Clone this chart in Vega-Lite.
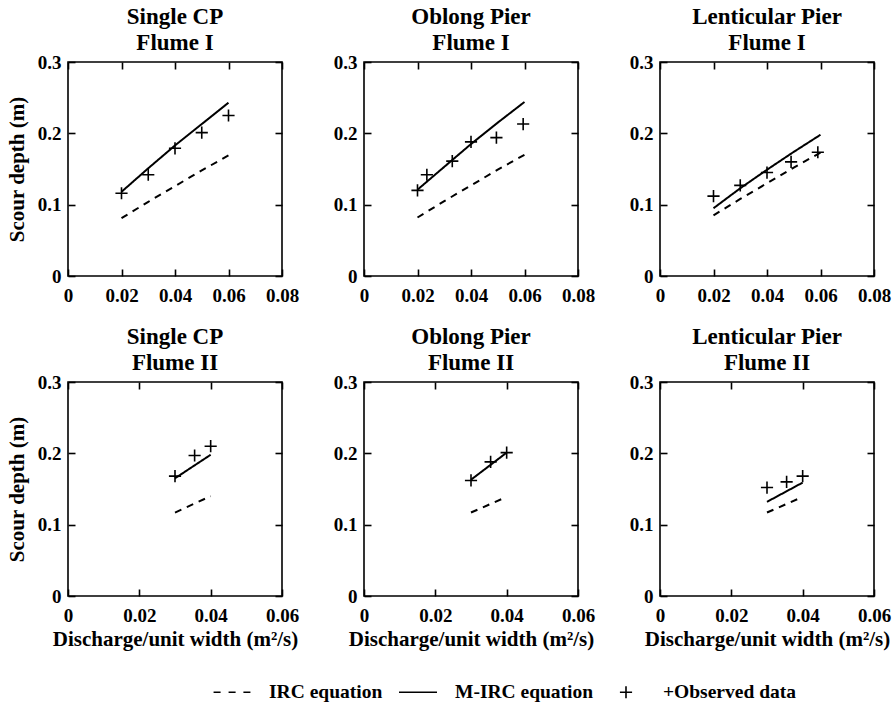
{
  "$schema": "https://vega.github.io/schema/vega-lite/v6.json",
  "background": "white",
  "padding": {"left": 5, "top": 5, "right": 5, "bottom": 5},
  "datasets": {
    "d": [
      {"panel": "A", "series": "IRC equation", "x": 0.02, "y": 0.081},
      {"panel": "A", "series": "IRC equation", "x": 0.03, "y": 0.104},
      {"panel": "A", "series": "IRC equation", "x": 0.04, "y": 0.126},
      {"panel": "A", "series": "IRC equation", "x": 0.05, "y": 0.148},
      {"panel": "A", "series": "IRC equation", "x": 0.06, "y": 0.169},
      {"panel": "A", "series": "M-IRC equation", "x": 0.02, "y": 0.118},
      {"panel": "A", "series": "M-IRC equation", "x": 0.03, "y": 0.151},
      {"panel": "A", "series": "M-IRC equation", "x": 0.04, "y": 0.183},
      {"panel": "A", "series": "M-IRC equation", "x": 0.05, "y": 0.213},
      {"panel": "A", "series": "M-IRC equation", "x": 0.06, "y": 0.243},
      {"panel": "A", "series": "Observed data", "x": 0.02, "y": 0.116},
      {"panel": "A", "series": "Observed data", "x": 0.03, "y": 0.142},
      {"panel": "A", "series": "Observed data", "x": 0.04, "y": 0.179},
      {"panel": "A", "series": "Observed data", "x": 0.05, "y": 0.201},
      {"panel": "A", "series": "Observed data", "x": 0.06, "y": 0.225},
      {"panel": "B", "series": "IRC equation", "x": 0.02, "y": 0.082},
      {"panel": "B", "series": "IRC equation", "x": 0.03, "y": 0.105},
      {"panel": "B", "series": "IRC equation", "x": 0.04, "y": 0.127},
      {"panel": "B", "series": "IRC equation", "x": 0.05, "y": 0.149},
      {"panel": "B", "series": "IRC equation", "x": 0.06, "y": 0.17},
      {"panel": "B", "series": "M-IRC equation", "x": 0.02, "y": 0.121},
      {"panel": "B", "series": "M-IRC equation", "x": 0.03, "y": 0.153},
      {"panel": "B", "series": "M-IRC equation", "x": 0.04, "y": 0.185},
      {"panel": "B", "series": "M-IRC equation", "x": 0.05, "y": 0.215},
      {"panel": "B", "series": "M-IRC equation", "x": 0.06, "y": 0.244},
      {"panel": "B", "series": "Observed data", "x": 0.02, "y": 0.12},
      {"panel": "B", "series": "Observed data", "x": 0.0235, "y": 0.142},
      {"panel": "B", "series": "Observed data", "x": 0.033, "y": 0.161},
      {"panel": "B", "series": "Observed data", "x": 0.04, "y": 0.188},
      {"panel": "B", "series": "Observed data", "x": 0.0495, "y": 0.194},
      {"panel": "B", "series": "Observed data", "x": 0.0595, "y": 0.213},
      {"panel": "C", "series": "IRC equation", "x": 0.02, "y": 0.085},
      {"panel": "C", "series": "IRC equation", "x": 0.03, "y": 0.108},
      {"panel": "C", "series": "IRC equation", "x": 0.04, "y": 0.13},
      {"panel": "C", "series": "IRC equation", "x": 0.05, "y": 0.152},
      {"panel": "C", "series": "IRC equation", "x": 0.06, "y": 0.173},
      {"panel": "C", "series": "M-IRC equation", "x": 0.02, "y": 0.095},
      {"panel": "C", "series": "M-IRC equation", "x": 0.03, "y": 0.123},
      {"panel": "C", "series": "M-IRC equation", "x": 0.04, "y": 0.149},
      {"panel": "C", "series": "M-IRC equation", "x": 0.05, "y": 0.174},
      {"panel": "C", "series": "M-IRC equation", "x": 0.06, "y": 0.198},
      {"panel": "C", "series": "Observed data", "x": 0.02, "y": 0.112},
      {"panel": "C", "series": "Observed data", "x": 0.03, "y": 0.127},
      {"panel": "C", "series": "Observed data", "x": 0.04, "y": 0.145},
      {"panel": "C", "series": "Observed data", "x": 0.049, "y": 0.16},
      {"panel": "C", "series": "Observed data", "x": 0.059, "y": 0.1735},
      {"panel": "D", "series": "IRC equation", "x": 0.03, "y": 0.117},
      {"panel": "D", "series": "IRC equation", "x": 0.04, "y": 0.14},
      {"panel": "D", "series": "M-IRC equation", "x": 0.03, "y": 0.165},
      {"panel": "D", "series": "M-IRC equation", "x": 0.04, "y": 0.198},
      {"panel": "D", "series": "Observed data", "x": 0.03, "y": 0.168},
      {"panel": "D", "series": "Observed data", "x": 0.0355, "y": 0.197},
      {"panel": "D", "series": "Observed data", "x": 0.04, "y": 0.21},
      {"panel": "E", "series": "IRC equation", "x": 0.03, "y": 0.117},
      {"panel": "E", "series": "IRC equation", "x": 0.04, "y": 0.139},
      {"panel": "E", "series": "M-IRC equation", "x": 0.03, "y": 0.163},
      {"panel": "E", "series": "M-IRC equation", "x": 0.04, "y": 0.201},
      {"panel": "E", "series": "Observed data", "x": 0.03, "y": 0.162},
      {"panel": "E", "series": "Observed data", "x": 0.0355, "y": 0.188},
      {"panel": "E", "series": "Observed data", "x": 0.04, "y": 0.201},
      {"panel": "F", "series": "IRC equation", "x": 0.03, "y": 0.117},
      {"panel": "F", "series": "IRC equation", "x": 0.04, "y": 0.139},
      {"panel": "F", "series": "M-IRC equation", "x": 0.03, "y": 0.132},
      {"panel": "F", "series": "M-IRC equation", "x": 0.04, "y": 0.159},
      {"panel": "F", "series": "Observed data", "x": 0.03, "y": 0.152},
      {"panel": "F", "series": "Observed data", "x": 0.0355, "y": 0.16},
      {"panel": "F", "series": "Observed data", "x": 0.04, "y": 0.168}
    ]
  },
  "data": {"name": "d"},
  "columns": 3,
  "bounds": "flush",
  "spacing": {"row": 106, "column": 82},
  "concat": [
    {
      "title": {"text": ["Single CP", "Flume I"]},
      "width": 214, "height": 214,
      "transform": [{"filter": "datum.panel === 'A'"}],
      "layer": [
        {"mark": {"type": "line", "color": "black", "strokeWidth": 2},
         "transform": [{"filter": "datum.series !== 'Observed data'"}],
         "encoding": {
           "x": {"field": "x", "type": "quantitative", "scale": {"domain": [0, 0.08]}, "axis": {"orient": "bottom", "title": null, "values": [0, 0.02, 0.04, 0.06, 0.08]}},
           "y": {"field": "y", "type": "quantitative", "scale": {"domain": [0, 0.3]}, "axis": {"orient": "left", "title": "Scour depth (m)", "values": [0, 0.1, 0.2, 0.3]}},
           "strokeDash": {"field": "series", "type": "nominal", "scale": {"domain": ["IRC equation", "M-IRC equation"], "range": [[7, 6], [1, 0]]}, "legend": null}
         }},
        {"mark": {"type": "point", "filled": false, "stroke": "black", "strokeWidth": 1.6, "size": 1444, "opacity": 1},
         "transform": [{"filter": "datum.series === 'Observed data'"}],
         "encoding": {
           "x": {"field": "x", "type": "quantitative", "scale": {"domain": [0, 0.08]}, "axis": {"orient": "top", "title": null, "labels": false, "values": [0, 0.02, 0.04, 0.06, 0.08]}},
           "y": {"field": "y", "type": "quantitative", "scale": {"domain": [0, 0.3]}, "axis": {"orient": "right", "title": null, "labels": false, "values": [0, 0.1, 0.2, 0.3]}},
           "shape": {"field": "series", "type": "nominal", "scale": {"domain": ["IRC equation", "M-IRC equation", "Observed data"], "range": ["M-0.97,0H-0.6M-0.18,0H0.19M0.6,0H0.97", "M-1,0H1", "M-0.32,0H0.32M0,-0.32V0.32"]},
             "legend": {"orient": "none", "legendX": 144, "legendY": 610, "direction": "horizontal", "title": null, "labelFont": "Liberation Serif", "labelFontWeight": "bold", "labelFontSize": 19.5, "labelColor": "black", "labelExpr": "datum.label === 'Observed data' ? '+Observed data' : datum.label", "columnPadding": 12, "labelOffset": 17, "symbolStrokeColor": "black", "symbolFillColor": "transparent", "symbolStrokeWidth": 1.6, "symbolSize": 1444,
               "encode": {"labels": {"update": {"fontWeight": {"value": "bold"}, "font": {"value": "Liberation Serif"}, "fontSize": {"value": 19.5}}}}}}
         }}
      ],
      "resolve": {"axis": {"x": "independent", "y": "independent"}}
    },
    {
      "title": {"text": ["Oblong Pier", "Flume I"]},
      "width": 214, "height": 214,
      "transform": [{"filter": "datum.panel === 'B'"}],
      "layer": [
        {"mark": {"type": "line", "color": "black", "strokeWidth": 2},
         "transform": [{"filter": "datum.series !== 'Observed data'"}],
         "encoding": {
           "x": {"field": "x", "type": "quantitative", "scale": {"domain": [0, 0.08]}, "axis": {"orient": "bottom", "title": null, "values": [0, 0.02, 0.04, 0.06, 0.08]}},
           "y": {"field": "y", "type": "quantitative", "scale": {"domain": [0, 0.3]}, "axis": {"orient": "left", "title": null, "values": [0, 0.1, 0.2, 0.3]}},
           "strokeDash": {"field": "series", "type": "nominal", "scale": {"domain": ["IRC equation", "M-IRC equation"], "range": [[7, 6], [1, 0]]}, "legend": null}
         }},
        {"mark": {"type": "point", "filled": false, "stroke": "black", "strokeWidth": 1.6, "size": 1444, "opacity": 1},
         "transform": [{"filter": "datum.series === 'Observed data'"}],
         "encoding": {
           "x": {"field": "x", "type": "quantitative", "scale": {"domain": [0, 0.08]}, "axis": {"orient": "top", "title": null, "labels": false, "values": [0, 0.02, 0.04, 0.06, 0.08]}},
           "y": {"field": "y", "type": "quantitative", "scale": {"domain": [0, 0.3]}, "axis": {"orient": "right", "title": null, "labels": false, "values": [0, 0.1, 0.2, 0.3]}},
           "shape": {"field": "series", "type": "nominal", "scale": {"domain": ["IRC equation", "M-IRC equation", "Observed data"], "range": ["M-0.97,0H-0.6M-0.18,0H0.19M0.6,0H0.97", "M-1,0H1", "M-0.32,0H0.32M0,-0.32V0.32"]}}
         }}
      ],
      "resolve": {"axis": {"x": "independent", "y": "independent"}}
    },
    {
      "title": {"text": ["Lenticular Pier", "Flume I"]},
      "width": 214, "height": 214,
      "transform": [{"filter": "datum.panel === 'C'"}],
      "layer": [
        {"mark": {"type": "line", "color": "black", "strokeWidth": 2},
         "transform": [{"filter": "datum.series !== 'Observed data'"}],
         "encoding": {
           "x": {"field": "x", "type": "quantitative", "scale": {"domain": [0, 0.08]}, "axis": {"orient": "bottom", "title": null, "values": [0, 0.02, 0.04, 0.06, 0.08]}},
           "y": {"field": "y", "type": "quantitative", "scale": {"domain": [0, 0.3]}, "axis": {"orient": "left", "title": null, "values": [0, 0.1, 0.2, 0.3]}},
           "strokeDash": {"field": "series", "type": "nominal", "scale": {"domain": ["IRC equation", "M-IRC equation"], "range": [[7, 6], [1, 0]]}, "legend": null}
         }},
        {"mark": {"type": "point", "filled": false, "stroke": "black", "strokeWidth": 1.6, "size": 1444, "opacity": 1},
         "transform": [{"filter": "datum.series === 'Observed data'"}],
         "encoding": {
           "x": {"field": "x", "type": "quantitative", "scale": {"domain": [0, 0.08]}, "axis": {"orient": "top", "title": null, "labels": false, "values": [0, 0.02, 0.04, 0.06, 0.08]}},
           "y": {"field": "y", "type": "quantitative", "scale": {"domain": [0, 0.3]}, "axis": {"orient": "right", "title": null, "labels": false, "values": [0, 0.1, 0.2, 0.3]}},
           "shape": {"field": "series", "type": "nominal", "scale": {"domain": ["IRC equation", "M-IRC equation", "Observed data"], "range": ["M-0.97,0H-0.6M-0.18,0H0.19M0.6,0H0.97", "M-1,0H1", "M-0.32,0H0.32M0,-0.32V0.32"]}}
         }}
      ],
      "resolve": {"axis": {"x": "independent", "y": "independent"}}
    },
    {
      "title": {"text": ["Single CP", "Flume II"]},
      "width": 214, "height": 214,
      "transform": [{"filter": "datum.panel === 'D'"}],
      "layer": [
        {"mark": {"type": "line", "color": "black", "strokeWidth": 2},
         "transform": [{"filter": "datum.series !== 'Observed data'"}],
         "encoding": {
           "x": {"field": "x", "type": "quantitative", "scale": {"domain": [0, 0.06]}, "axis": {"orient": "bottom", "title": "Discharge/unit width (m²/s)", "values": [0, 0.02, 0.04, 0.06]}},
           "y": {"field": "y", "type": "quantitative", "scale": {"domain": [0, 0.3]}, "axis": {"orient": "left", "title": "Scour depth (m)", "values": [0, 0.1, 0.2, 0.3]}},
           "strokeDash": {"field": "series", "type": "nominal", "scale": {"domain": ["IRC equation", "M-IRC equation"], "range": [[7, 6], [1, 0]]}, "legend": null}
         }},
        {"mark": {"type": "point", "filled": false, "stroke": "black", "strokeWidth": 1.6, "size": 1444, "opacity": 1},
         "transform": [{"filter": "datum.series === 'Observed data'"}],
         "encoding": {
           "x": {"field": "x", "type": "quantitative", "scale": {"domain": [0, 0.06]}, "axis": {"orient": "top", "title": null, "labels": false, "values": [0, 0.02, 0.04, 0.06]}},
           "y": {"field": "y", "type": "quantitative", "scale": {"domain": [0, 0.3]}, "axis": {"orient": "right", "title": null, "labels": false, "values": [0, 0.1, 0.2, 0.3]}},
           "shape": {"field": "series", "type": "nominal", "scale": {"domain": ["IRC equation", "M-IRC equation", "Observed data"], "range": ["M-0.97,0H-0.6M-0.18,0H0.19M0.6,0H0.97", "M-1,0H1", "M-0.32,0H0.32M0,-0.32V0.32"]}}
         }}
      ],
      "resolve": {"axis": {"x": "independent", "y": "independent"}}
    },
    {
      "title": {"text": ["Oblong Pier", "Flume II"]},
      "width": 214, "height": 214,
      "transform": [{"filter": "datum.panel === 'E'"}],
      "layer": [
        {"mark": {"type": "line", "color": "black", "strokeWidth": 2},
         "transform": [{"filter": "datum.series !== 'Observed data'"}],
         "encoding": {
           "x": {"field": "x", "type": "quantitative", "scale": {"domain": [0, 0.06]}, "axis": {"orient": "bottom", "title": "Discharge/unit width (m²/s)", "values": [0, 0.02, 0.04, 0.06]}},
           "y": {"field": "y", "type": "quantitative", "scale": {"domain": [0, 0.3]}, "axis": {"orient": "left", "title": null, "values": [0, 0.1, 0.2, 0.3]}},
           "strokeDash": {"field": "series", "type": "nominal", "scale": {"domain": ["IRC equation", "M-IRC equation"], "range": [[7, 6], [1, 0]]}, "legend": null}
         }},
        {"mark": {"type": "point", "filled": false, "stroke": "black", "strokeWidth": 1.6, "size": 1444, "opacity": 1},
         "transform": [{"filter": "datum.series === 'Observed data'"}],
         "encoding": {
           "x": {"field": "x", "type": "quantitative", "scale": {"domain": [0, 0.06]}, "axis": {"orient": "top", "title": null, "labels": false, "values": [0, 0.02, 0.04, 0.06]}},
           "y": {"field": "y", "type": "quantitative", "scale": {"domain": [0, 0.3]}, "axis": {"orient": "right", "title": null, "labels": false, "values": [0, 0.1, 0.2, 0.3]}},
           "shape": {"field": "series", "type": "nominal", "scale": {"domain": ["IRC equation", "M-IRC equation", "Observed data"], "range": ["M-0.97,0H-0.6M-0.18,0H0.19M0.6,0H0.97", "M-1,0H1", "M-0.32,0H0.32M0,-0.32V0.32"]}}
         }}
      ],
      "resolve": {"axis": {"x": "independent", "y": "independent"}}
    },
    {
      "title": {"text": ["Lenticular Pier", "Flume II"]},
      "width": 214, "height": 214,
      "transform": [{"filter": "datum.panel === 'F'"}],
      "layer": [
        {"mark": {"type": "line", "color": "black", "strokeWidth": 2},
         "transform": [{"filter": "datum.series !== 'Observed data'"}],
         "encoding": {
           "x": {"field": "x", "type": "quantitative", "scale": {"domain": [0, 0.06]}, "axis": {"orient": "bottom", "title": "Discharge/unit width (m²/s)", "values": [0, 0.02, 0.04, 0.06]}},
           "y": {"field": "y", "type": "quantitative", "scale": {"domain": [0, 0.3]}, "axis": {"orient": "left", "title": null, "values": [0, 0.1, 0.2, 0.3]}},
           "strokeDash": {"field": "series", "type": "nominal", "scale": {"domain": ["IRC equation", "M-IRC equation"], "range": [[7, 6], [1, 0]]}, "legend": null}
         }},
        {"mark": {"type": "point", "filled": false, "stroke": "black", "strokeWidth": 1.6, "size": 1444, "opacity": 1},
         "transform": [{"filter": "datum.series === 'Observed data'"}],
         "encoding": {
           "x": {"field": "x", "type": "quantitative", "scale": {"domain": [0, 0.06]}, "axis": {"orient": "top", "title": null, "labels": false, "values": [0, 0.02, 0.04, 0.06]}},
           "y": {"field": "y", "type": "quantitative", "scale": {"domain": [0, 0.3]}, "axis": {"orient": "right", "title": null, "labels": false, "values": [0, 0.1, 0.2, 0.3]}},
           "shape": {"field": "series", "type": "nominal", "scale": {"domain": ["IRC equation", "M-IRC equation", "Observed data"], "range": ["M-0.97,0H-0.6M-0.18,0H0.19M0.6,0H0.97", "M-1,0H1", "M-0.32,0H0.32M0,-0.32V0.32"]}}
         }}
      ],
      "resolve": {"axis": {"x": "independent", "y": "independent"}}
    }
  ],
  "config": {
    "view": {"stroke": "black", "strokeWidth": 1.6},
    "font": "Liberation Serif",
    "axis": {
      "domain": false, "grid": false,
      "tickColor": "black", "tickWidth": 1.6, "tickSize": -7,
      "labelFont": "Liberation Serif", "labelFontWeight": "bold", "labelFontSize": 19, "labelColor": "black",
      "labelFlush": false, "labelOverlap": false,
      "labelExpr": "datum.value === 0 ? '0' : (datum.value * 10) % 1 === 0 ? format(datum.value, '.1f') : format(datum.value, '.2f')",
      "titleFont": "Liberation Serif", "titleFontWeight": "bold", "titleFontSize": 21, "titleColor": "black"
    },
    "axisX": {"labelPadding": 17, "titlePadding": 3},
    "axisY": {"labelPadding": 14, "titlePadding": 10},
    "title": {"font": "Liberation Serif", "fontSize": 23, "fontWeight": "bold", "color": "black", "anchor": "middle", "offset": -2, "lineHeight": 26},
    "legend": {
      "orient": "none", "legendX": 144, "legendY": 610, "direction": "horizontal", "title": null,
      "symbolSize": 1444, "symbolStrokeColor": "black", "symbolFillColor": "transparent", "symbolStrokeWidth": 1.6,
      "labelFont": "Liberation Serif", "labelFontWeight": "bold", "labelFontSize": 19.5, "labelColor": "black",
      "columnPadding": 12, "labelOffset": 17
    }
  }
}
